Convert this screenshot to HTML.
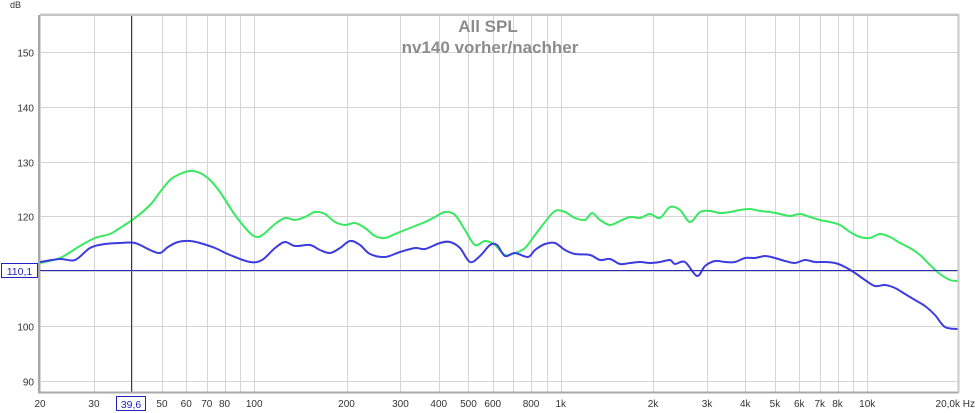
<!DOCTYPE html>
<html><head><meta charset="utf-8"><style>
html,body{margin:0;padding:0;background:#fff;}
svg{display:block;font-family:"Liberation Sans",sans-serif;}
</style></head><body>
<svg id="s" width="978" height="413" viewBox="0 0 978 413" xmlns="http://www.w3.org/2000/svg">
<rect x="0" y="0" width="978" height="413" fill="#fff"/>
<g id="grid" stroke="#d4d4d4" stroke-width="1"></g>
<g id="lbl" font-size="10" fill="#333"></g>
<text x="488" y="32" font-size="17" font-weight="bold" fill="#8c8c8c" text-anchor="middle">All SPL</text>
<text x="490" y="53" font-size="17" font-weight="bold" fill="#8c8c8c" text-anchor="middle">nv140 vorher/nachher</text>
<path id="gp" fill="none" stroke="#38e860" stroke-width="2" stroke-linejoin="round"/>
<path id="bp" fill="none" stroke="#3c3ce0" stroke-width="2" stroke-linejoin="round"/>
<line x1="40" y1="270.5" x2="958" y2="270.5" stroke="#2a2ab4" stroke-width="1"/>
<line x1="131.5" y1="15" x2="131.5" y2="392" stroke="#2a2ab4" stroke-width="1"/>
<rect x="39.5" y="15.5" width="919" height="377" fill="none" stroke="#bdbdbd" stroke-width="1"/>
<line x1="39" y1="15" x2="39" y2="393" stroke="#a8a8a8" stroke-width="2"/>
<line x1="38" y1="392.5" x2="959" y2="392.5" stroke="#a8a8a8" stroke-width="2"/>
<line x1="40" y1="14.5" x2="959" y2="14.5" stroke="#c8c8c8" stroke-width="2"/>
<line x1="958.5" y1="14" x2="958.5" y2="393" stroke="#c8c8c8" stroke-width="2"/>
<rect x="1.5" y="263.5" width="36" height="14" fill="#fff" stroke="#2222c0"/>
<text x="19.5" y="275" font-size="10.5" fill="#2222c0" text-anchor="middle">110,1</text>
<rect x="116.5" y="396.5" width="29" height="14" fill="#fff" stroke="#2222c0"/>
<text x="131" y="408" font-size="10.5" fill="#2222c0" text-anchor="middle">39,6</text>
<text x="10" y="8" font-size="9" fill="#333">dB</text>
</svg>
<script>
(function(){
var ns="http://www.w3.org/2000/svg";
var g=document.getElementById("grid"),L=document.getElementById("lbl");
function X(f){return 40+306.5*Math.log10(f/20);}
function Y(d){return 52+(150-d)*5.48;}
function ln(x1,y1,x2,y2){var l=document.createElementNS(ns,"line");l.setAttribute("x1",x1);l.setAttribute("y1",y1);l.setAttribute("x2",x2);l.setAttribute("y2",y2);g.appendChild(l);}
function tx(x,y,s,a){var t=document.createElementNS(ns,"text");t.setAttribute("x",x);t.setAttribute("y",y);t.setAttribute("text-anchor",a);t.textContent=s;L.appendChild(t);}
var fs=[];
for(var d=10;d<=10000;d*=10){for(var m=1;m<10;m++){var f=d*m;if(f>=20&&f<=19500)fs.push(f);}}
fs.forEach(function(f){var x=Math.round(X(f))+0.5;ln(x,15,x,392);});
for(var db=90;db<=150;db+=10){var y=Math.round(Y(db))+0.5;ln(40,y,958,y);tx(34,y+4,""+db,"end");}
var labs=[[20,"20"],[30,"30"],[50,"50"],[60,"60"],[70,"70"],[80,"80"],[100,"100"],[200,"200"],[300,"300"],[400,"400"],[500,"500"],[600,"600"],[800,"800"],[1000,"1k"],[2000,"2k"],[3000,"3k"],[4000,"4k"],[5000,"5k"],[6000,"6k"],[7000,"7k"],[8000,"8k"],[10000,"10k"]];
labs.forEach(function(a){tx(X(a[0]),407,a[1],"middle");});
tx(975,407,"20,0k Hz","end");
function smooth(s){var p=s.trim().split(/\s+/).map(function(q){return q.split(",").map(Number);});
var d="M"+p[0][0]+","+p[0][1];
for(var i=0;i<p.length-1;i++){var p0=p[i-1]||p[i],p1=p[i],p2=p[i+1],p3=p[i+2]||p2;
var c1x=p1[0]+(p2[0]-p0[0])/6,c1y=p1[1]+(p2[1]-p0[1])/6,c2x=p2[0]-(p3[0]-p1[0])/6,c2y=p2[1]-(p3[1]-p1[1])/6;
d+=" C"+c1x.toFixed(1)+","+c1y.toFixed(1)+" "+c2x.toFixed(1)+","+c2y.toFixed(1)+" "+p2[0]+","+p2[1];}
return d;}
document.getElementById("gp").setAttribute("d",smooth("40,263 60,258 80,246 95,238 110,234 120,228 135,218 150,205 160,192 170,180 180,174 190,171 200,173 210,180 220,192 235,215 250,233 258,237 265,233 275,224 285,218 295,220 305,217 315,212 325,214 335,222 345,225 355,223 365,228 375,236 385,238 395,234 405,230 415,226 425,222 435,217 445,212 455,215 465,230 475,245 485,241 495,245 505,255 515,253 525,248 535,235 545,222 555,211 565,212 575,218 585,220 592,213 600,220 610,225 620,221 630,217 640,218 650,214 660,218 670,207 680,210 690,222 700,212 710,211 720,213 730,212 740,210 750,209 760,211 770,212 780,214 790,216 800,214 810,217 820,220 830,222 840,225 850,232 860,237 870,238 880,234 890,237 900,243 910,248 920,255 930,265 940,274 950,280 958,281"));
document.getElementById("bp").setAttribute("d",smooth("40,262 60,259 75,260 90,248 105,244 120,243 135,243 150,250 160,253 168,247 178,242 190,241 200,243 215,248 230,255 250,262 262,260 275,248 285,242 295,246 310,245 320,250 330,253 340,248 350,241 360,245 370,254 385,257 400,252 415,248 425,249 440,243 450,242 460,248 470,262 480,256 490,245 497,245 505,256 515,253 528,257 535,250 545,244 555,243 565,250 575,254 590,255 600,260 610,259 620,264 630,263 640,262 650,263 660,262 670,260 675,264 685,262 697,276 705,266 715,261 725,262 735,262 745,258 755,258 765,256 775,258 785,261 795,263 805,260 815,262 825,262 835,263 845,267 855,273 865,280 875,286 885,285 895,288 905,294 915,300 925,306 935,315 945,327 958,329"));
})();
</script>
</body></html>
